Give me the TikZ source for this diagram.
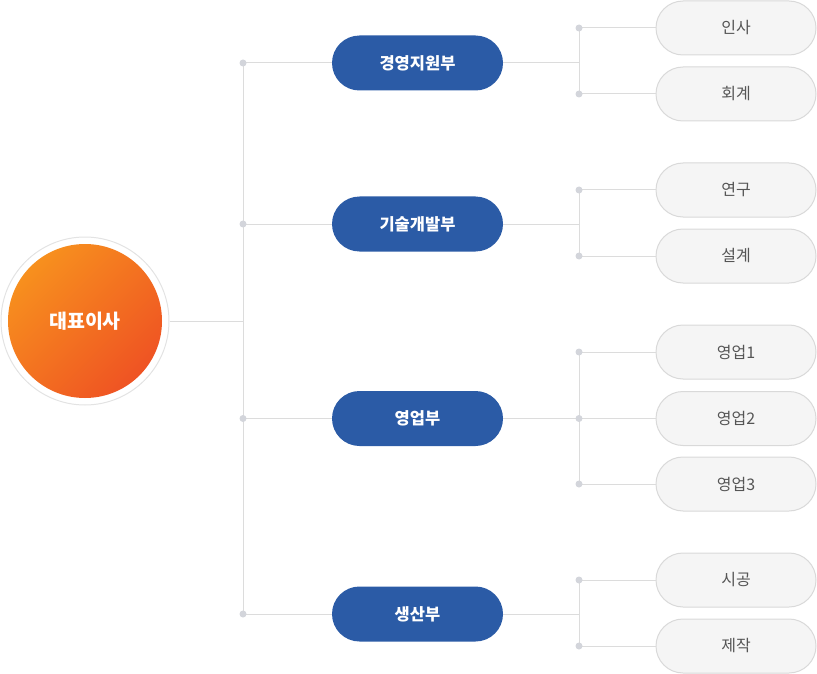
\documentclass[tikz,border=0pt]{standalone}
\usepackage{fontspec}
\setmainfont{Noto Sans CJK KR}
\definecolor{deptblue}{HTML}{2B5BA6}
\definecolor{linegray}{HTML}{DCDCDC}
\definecolor{dotgray}{HTML}{D3D5DB}
\definecolor{leaffill}{HTML}{F5F5F5}
\definecolor{leafborder}{HTML}{D9D9D9}
\definecolor{leaftext}{HTML}{555555}
\definecolor{orangeA}{HTML}{F7901E}
\definecolor{orangeB}{HTML}{EF5323}
\definecolor{ringgray}{HTML}{E3E3E3}
\begin{document}
\begin{tikzpicture}[x=1pt,y=-1pt,
  dept/.style={rectangle, rounded corners=27.5pt, fill=deptblue, minimum width=171pt, minimum height=55pt, inner sep=0pt, text=white, font=\bfseries\fontsize{16.5}{19}\selectfont},
  leaf/.style={rectangle, rounded corners=27pt, fill=leaffill, draw=leafborder, line width=1pt, minimum width=160pt, minimum height=54pt, inner sep=0pt, text=leaftext, font=\fontsize{16}{19}\selectfont},
  conn/.style={draw=linegray, line width=1pt},
  dotnode/.style={circle, fill=dotgray, inner sep=0pt, minimum size=7pt}]
\useasboundingbox (0,0) rectangle (817,674);
% CEO
\node[circle, draw=ringgray, line width=1pt, fill=white, minimum size=168pt, inner sep=0pt] (ring) at (85,321) {};
\node[circle, top color=orangeA, bottom color=orangeB, shading angle=45, minimum size=154pt, inner sep=0pt, text=white, font=\bfseries\fontsize{19.5}{22}\selectfont] (ceo) at (85,321) {대표이사};
% trunk coordinates
\coordinate (tj) at (243,321);
\coordinate (t1) at (243,63);
\coordinate (t2) at (243,224);
\coordinate (t3) at (243,418.5);
\coordinate (t4) at (243,614);
% departments
\node[dept] (d1) at (417.5,63) {경영지원부};
\node[dept] (d2) at (417.5,224) {기술개발부};
\node[dept] (d3) at (417.5,418.5) {영업부};
\node[dept] (d4) at (417.5,614) {생산부};
% branch coordinates
\coordinate (b1) at (579,63);
\coordinate (b2) at (579,224);
\coordinate (b3) at (579,418.5);
\coordinate (b4) at (579,614);
\coordinate (p1) at (579,28);
\coordinate (p2) at (579,94);
\coordinate (p3) at (579,190);
\coordinate (p4) at (579,256);
\coordinate (p5) at (579,352);
\coordinate (p6) at (579,418.5);
\coordinate (p7) at (579,484);
\coordinate (p8) at (579,580);
\coordinate (p9) at (579,646);
% leaves
\node[leaf] (l1) at (736,28) {인사};
\node[leaf] (l2) at (736,94) {회계};
\node[leaf] (l3) at (736,190) {연구};
\node[leaf] (l4) at (736,256) {설계};
\node[leaf] (l5) at (736,352) {영업1};
\node[leaf] (l6) at (736,418.5) {영업2};
\node[leaf] (l7) at (736,484) {영업3};
\node[leaf] (l8) at (736,580) {시공};
\node[leaf] (l9) at (736,646) {제작};
% connectors
\draw[conn] (ring.east) -- (tj);
\draw[conn] (t1) -- (t4);
\draw[conn] (t1) -- (d1.west);
\draw[conn] (t2) -- (d2.west);
\draw[conn] (t3) -- (d3.west);
\draw[conn] (t4) -- (d4.west);
\draw[conn] (d1.east) -- (b1);
\draw[conn] (d2.east) -- (b2);
\draw[conn] (d3.east) -- (b3);
\draw[conn] (d4.east) -- (b4);
\draw[conn] (p1) -- (p2);
\draw[conn] (p3) -- (p4);
\draw[conn] (p5) -- (p7);
\draw[conn] (p8) -- (p9);
\foreach \i in {1,...,9} {\draw[conn] (p\i) -- (l\i.west);}
% dots
\foreach \i in {1,...,4} {\node[dotnode] (td\i) at (t\i) {};}
\foreach \i in {1,...,9} {\node[dotnode] (pd\i) at (p\i) {};}
\end{tikzpicture}
\end{document}
